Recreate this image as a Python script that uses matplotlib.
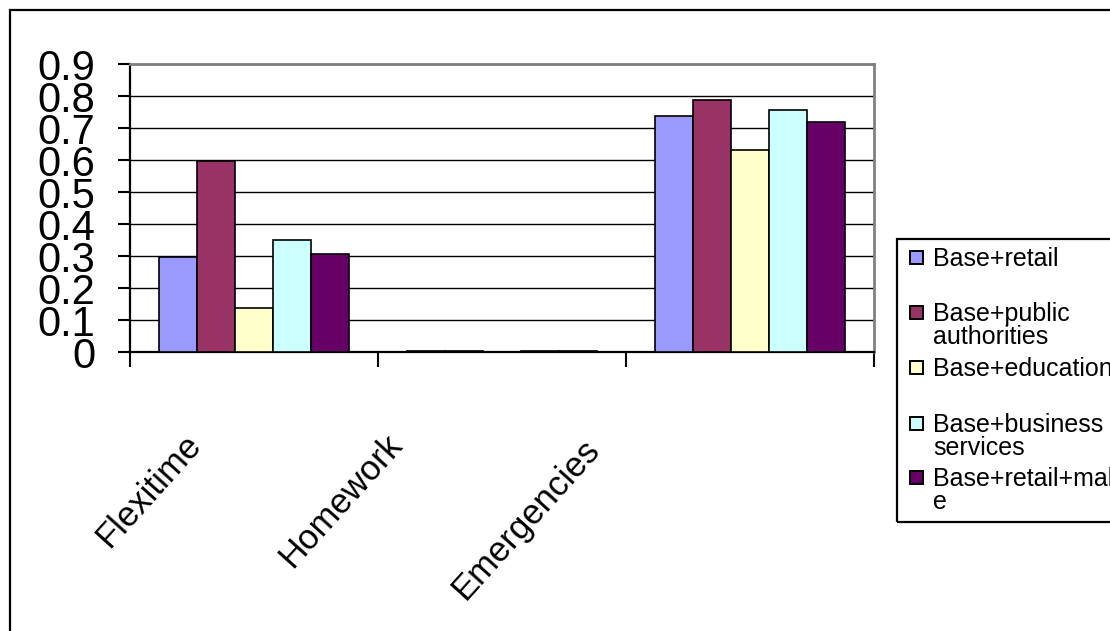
import matplotlib
matplotlib.use("Agg")
import matplotlib.pyplot as plt
from matplotlib.patches import Rectangle
import numpy as np

plt.rcParams['font.family'] = ['Liberation Sans', 'DejaVu Sans']

categories = ["Flexitime", "Homework", "Emergencies"]
series_names = ["Base+retail", "Base+public\nauthorities", "Base+education",
                "Base+business\nservices", "Base+retail+mal\ne"]
base_retail = [0.298, 0.004, 0.737]
base_public = [0.598, 0.004, 0.786]
base_education = [0.136, 0.0, 0.631]
base_business = [0.350, 0.004, 0.755]
base_retail_male = [0.305, 0.004, 0.719]
series_values = [base_retail, base_public, base_education, base_business, base_retail_male]
colors = ["#9999FF", "#993366", "#FFFFCC", "#CCFFFF", "#660066"]
yticks = [0, 0.1, 0.2, 0.3, 0.4, 0.5, 0.6, 0.7, 0.8, 0.9]
ytick_labels = ["0", "0.1", "0.2", "0.3", "0.4", "0.5", "0.6", "0.7", "0.8", "0.9"]

W, H = 1110, 631
fig = plt.figure(figsize=(W / 100, H / 100), dpi=100)

# outer chart border
fig.patches.append(Rectangle((10 / W, -0.05), 1.2, 1 - 10 / H + 0.05,
                             transform=fig.transFigure, fill=False,
                             edgecolor="black", linewidth=1.6))

ax = fig.add_axes([130 / W, 1 - 352 / H, 744 / W, 288 / H])
x = np.arange(len(categories))
bw = 0.153
for i, (vals, c) in enumerate(zip(series_values, colors)):
    ax.bar(x + (i - 2) * bw, vals, width=bw, color=c, edgecolor="black",
           linewidth=1.2, zorder=3)

ax.set_xlim(-0.5, 2.5)
ax.set_ylim(0, 0.9)
ax.set_yticks(yticks)
ax.set_yticklabels(ytick_labels, fontsize=30)
ax.yaxis.grid(True, color="black", linewidth=1.0, zorder=0)
ax.set_axisbelow(True)
ax.tick_params(axis="y", direction="out", length=9, width=1.5, pad=16)
ax.set_xticks([-0.5, 0.5, 1.5, 2.5])
ax.set_xticklabels([])
ax.tick_params(axis="x", direction="out", length=11, width=1.5)

for s in ["left", "bottom"]:
    ax.spines[s].set_color("black")
    ax.spines[s].set_linewidth(1.6)
for s in ["top", "right"]:
    ax.spines[s].set_color("#808080")
    ax.spines[s].set_linewidth(2.0)

# category labels (rotated)
label_centers = [(149, 491), (341, 501), (526, 520)]
for lab, (px, py) in zip(categories, label_centers):
    fig.text(px / W, 1 - py / H, lab, rotation=48, ha="center", va="center",
             fontsize=25)

# legend box
fig.patches.append(Rectangle((897 / W, 1 - 522 / H), 0.3, (522 - 239) / H,
                             transform=fig.transFigure, fill=False,
                             edgecolor="black", linewidth=1.6))
legend_y = [257, 312, 367, 423, 477]
for name, c, py in zip(series_names, colors, legend_y):
    fig.patches.append(Rectangle((910 / W, 1 - (py + 6.5) / H), 13 / W, 13 / H,
                                 transform=fig.transFigure, facecolor=c,
                                 edgecolor="black", linewidth=1.4))
    fig.text(933 / W, 1 - (py - 10) / H, name, ha="left", va="top",
             fontsize=18, linespacing=0.95)

fig.savefig("out.png", dpi=100)
